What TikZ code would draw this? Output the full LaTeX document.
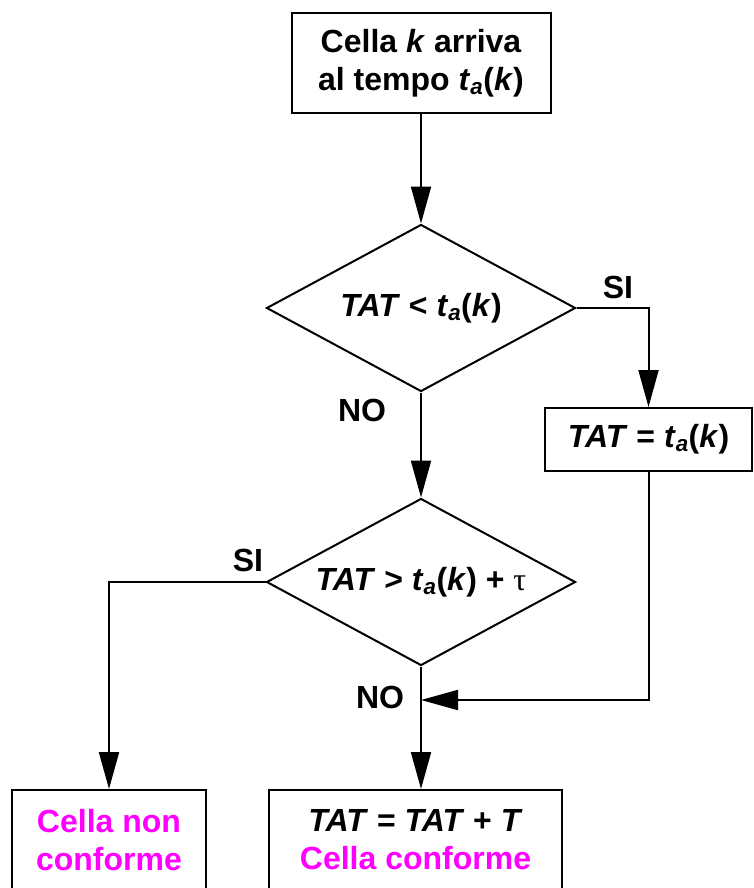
\documentclass[tikz,border=0pt]{standalone}
\usepackage{fontspec}
\setmainfont{Liberation Sans}
\newfontfamily\greekfont{Liberation Serif}
\usepackage{xcolor}
\definecolor{esitoMagenta}{RGB}{255,0,255}
\usepackage{tikz}
\usetikzlibrary{arrows.meta, positioning, shapes.geometric}

\begin{document}
\begin{tikzpicture}[x=1pt,y=-1pt,
  font=\bfseries\fontsize{32}{38}\selectfont,
  box/.style={draw, line width=2pt, align=center, inner sep=0pt},
  test/.style={draw, diamond, line width=2pt, minimum width=309pt, minimum height=167pt, inner sep=0pt},
  flow/.style={line width=2pt, -{Triangle[length=37pt,width=20pt]}}]
  \useasboundingbox (0,0) rectangle (754,888);
  \clip (0,0) rectangle (754,888);

  % blocchi
  \node[box, minimum width=259pt, minimum height=100pt] (arrivo) at (421,63)
    {Cella \textit{k} arriva\\al tempo \textit{t}\textsubscript{\textit{a}}(\textit{k})};
  \node[test, label=center:{\textit{TAT} < \textit{t}\textsubscript{\textit{a}}(\textit{k})}] (test1) at (421,308) {};
  \node[box, minimum width=207pt, minimum height=63pt] (aggiorna) at (648.5,439.5)
    {\textit{TAT} = \textit{t}\textsubscript{\textit{a}}(\textit{k})};
  \node[test, label=center:{\textit{TAT} > \textit{t}\textsubscript{\textit{a}}(\textit{k}) + {\greekfont\mdseries τ}}] (test2) at (421,582) {};
  \node[box, minimum width=194pt, minimum height=100pt] (noconf) at (109,840)
    {\textcolor{esitoMagenta}{Cella non}\\\textcolor{esitoMagenta}{conforme}};
  \node[box, minimum width=293pt, minimum height=100pt] (conf) at (415.5,840)
    {\textit{TAT} = \textit{TAT} + \textit{T}\\\textcolor{esitoMagenta}{Cella conforme}};
  \coordinate (unione) at (421,700);

  % collegamenti
  \draw[flow] (arrivo.south) -- (test1.north);
  \draw[flow] (test1.east) -| (aggiorna.north);
  \draw[flow] (test1.south) -- (test2.north);
  \draw[flow] (test2.west) -| (noconf.north);
  \draw[flow] (test2.south) -- (test2.south |- conf.north);
  \draw[flow] (aggiorna.south) |- (unione);

  % etichette
  \node (si1) at (618,287) {SI};
  \node (no1) at (362,410) {NO};
  \node (si2) at (248,560) {SI};
  \node (no2) at (380,697) {NO};
\end{tikzpicture}
\end{document}
